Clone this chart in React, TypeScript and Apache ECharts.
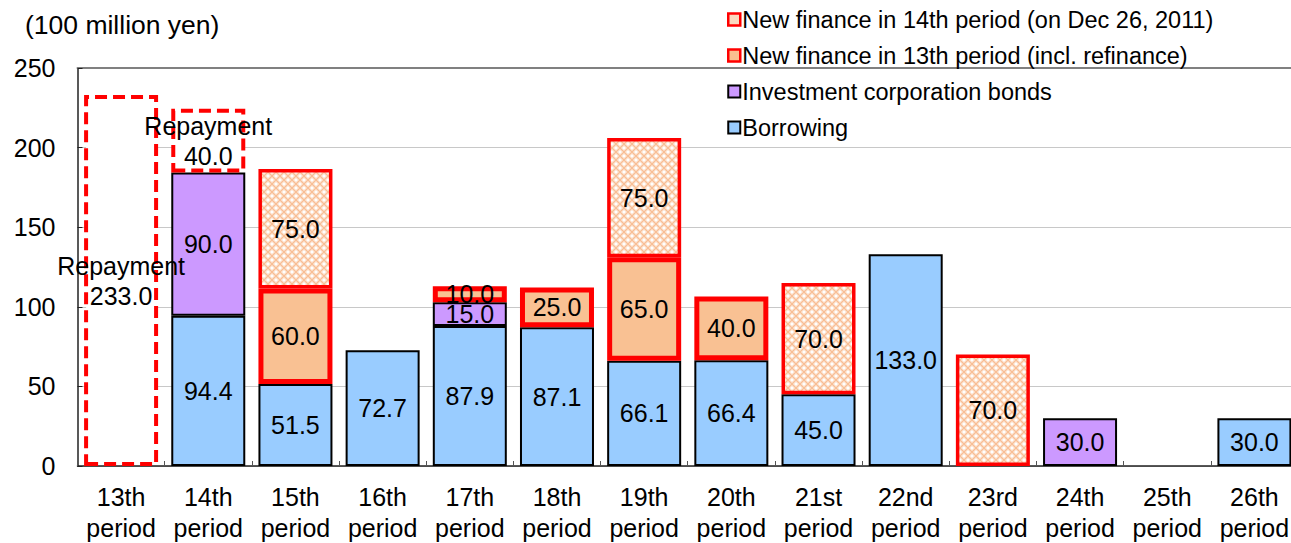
import React, { useEffect, useRef } from "react";
import * as echarts from "echarts";

const categories = [
  "13th\nperiod", "14th\nperiod", "15th\nperiod", "16th\nperiod", "17th\nperiod",
  "18th\nperiod", "19th\nperiod", "20th\nperiod", "21st\nperiod", "22nd\nperiod",
  "23rd\nperiod", "24th\nperiod", "25th\nperiod", "26th\nperiod",
];
const borrowing = [null, 94.4, 51.5, 72.7, 87.9, 87.1, 66.1, 66.4, 45.0, 133.0, null, null, null, 30.0];
const bonds = [null, 90.0, null, null, 15.0, null, null, null, null, null, null, 30.0, null, null];
const new13 = [null, null, 60.0, null, 10.0, 25.0, 65.0, 40.0, null, null, null, null, null, null];
const new14 = [null, null, 75.0, null, null, null, 75.0, null, 70.0, null, 70.0, null, null, null];
const repayment = [233.0, 40.0, null, null, null, null, null, null, null, null, null, null, null, null];

const NAME_NEW14 = "New finance in 14th period (on Dec 26, 2011)";
const NAME_NEW13 = "New finance in 13th period (incl. refinance)";
const NAME_BONDS = "Investment corporation bonds";
const NAME_BORROW = "Borrowing";
const NAME_REPAY = "Repayment";

const FONT = 'Arial, "Liberation Sans", sans-serif';
const FS = 25;

function makePattern() {
  const c = document.createElement("canvas");
  c.width = 8;
  c.height = 8;
  const ctx = c.getContext("2d")!;
  ctx.fillStyle = "#FDEBDD";
  ctx.fillRect(0, 0, 8, 8);
  ctx.strokeStyle = "#F8BE95";
  ctx.lineWidth = 1.3;
  ctx.beginPath();
  ctx.moveTo(0, 0); ctx.lineTo(8, 8);
  ctx.moveTo(8, 0); ctx.lineTo(0, 8);
  ctx.stroke();
  ctx.fillStyle = "#ffffff";
  ctx.fillRect(3, 0, 2, 1);
  ctx.fillRect(0, 3, 1, 2);
  ctx.fillRect(7, 3, 1, 2);
  ctx.fillRect(3, 7, 2, 1);
  return c;
}

export default function App() {
  const ref = useRef<HTMLDivElement>(null);
  useEffect(() => {
    const chart = echarts.init(ref.current!, null, { renderer: "svg" });
    const pat = makePattern();
    const fmt = (p: any) => (p.value == null ? "" : Number(p.value).toFixed(1));
    const lbl = {
      show: true,
      position: "inside",
      color: "#000",
      fontSize: FS,
      fontFamily: FONT,
      formatter: fmt,
    };
    const barW = 74;
    chart.setOption({
      animation: false,
      textStyle: { fontFamily: FONT },
      title: {
        text: "(100 million yen)",
        left: 20,
        top: 6,
        textStyle: { fontSize: 26.5, fontWeight: "normal", color: "#000", fontFamily: FONT },
      },
      legend: {
        orient: "vertical",
        left: 722,
        top: 2,
        itemWidth: 12,
        itemHeight: 12,
        itemGap: 11,
        icon: "rect",
        selectedMode: false,
        textStyle: { fontSize: 23.5, color: "#000", fontFamily: FONT, lineHeight: 25, padding: [0, 0, 0, -3] },
        data: [
          { name: NAME_NEW14, itemStyle: { color: "#FBD9C0", borderColor: "#FF0000", borderWidth: 2.5 } },
          { name: NAME_NEW13, itemStyle: { color: "#FAC090", borderColor: "#FF0000", borderWidth: 2.5 } },
          { name: NAME_BONDS, itemStyle: { color: "#CC99FF", borderColor: "#000", borderWidth: 2 } },
          { name: NAME_BORROW, itemStyle: { color: "#99CCFF", borderColor: "#000", borderWidth: 2 } },
        ],
      },
      grid: { left: 77.5, right: 0, top: 68, bottom: 77, containLabel: false },
      xAxis: [
        {
          type: "category",
          data: categories,
          axisLine: { lineStyle: { color: "#222", width: 1.5 } },
          axisTick: { show: true, inside: true, length: 5, lineStyle: { color: "#555" } },
          axisLabel: { color: "#000", fontSize: FS, fontFamily: FONT, lineHeight: 31, margin: 15, interval: 0 },
        },
        {
          type: "category",
          data: categories,
          position: "top",
          axisLine: { show: true, lineStyle: { color: "#808080", width: 2 } },
          axisTick: { show: false },
          axisLabel: { show: false },
        },
      ],
      yAxis: {
        type: "value",
        min: 0,
        max: 250,
        interval: 50,
        axisLine: { show: true, lineStyle: { color: "#222", width: 1.5 } },
        axisTick: { show: true, inside: true, length: 5, lineStyle: { color: "#222" } },
        axisLabel: { color: "#000", fontSize: FS, fontFamily: FONT, margin: 22 },
        splitLine: { show: true, lineStyle: { color: "#C8C8C8", width: 1 } },
      },
      series: [
        {
          name: NAME_BORROW, type: "bar", stack: "a", barWidth: barW, data: borrowing,
          itemStyle: { color: "#99CCFF", borderColor: "#000", borderWidth: 2 },
          label: lbl,
        },
        {
          name: NAME_BONDS, type: "bar", stack: "a", barWidth: barW, data: bonds,
          itemStyle: { color: "#CC99FF", borderColor: "#000", borderWidth: 2 },
          label: lbl,
        },
        {
          name: NAME_NEW13, type: "bar", stack: "a", barWidth: barW, data: new13,
          itemStyle: { color: "#F9C193", borderColor: "#FF0000", borderWidth: 5 },
          label: lbl,
        },
        {
          name: NAME_NEW14, type: "bar", stack: "a", barWidth: barW, data: new14,
          itemStyle: {
            color: { image: pat, repeat: "repeat", imageWidth: 8, imageHeight: 8 },
            borderColor: "#FF0000",
            borderWidth: 3.5,
          },
          label: lbl,
        },
        {
          name: NAME_REPAY, type: "bar", stack: "a", barWidth: barW, data: repayment,
          itemStyle: { color: "#ffffff", borderColor: "#FF0000", borderWidth: 4, borderType: [12, 6] },
          label: {
            ...lbl,
            lineHeight: 30,
            formatter: (p: any) => (p.value == null ? "" : "Repayment\n" + Number(p.value).toFixed(1)),
          },
        },
      ],
    });
    return () => chart.dispose();
  }, []);
  return (
    <div style={{ position: "absolute", left: 0, top: 0, width: 1291, height: 543, overflow: "hidden" }}>
      <div ref={ref} style={{ width: 1298, height: 543 }} />
    </div>
  );
}
